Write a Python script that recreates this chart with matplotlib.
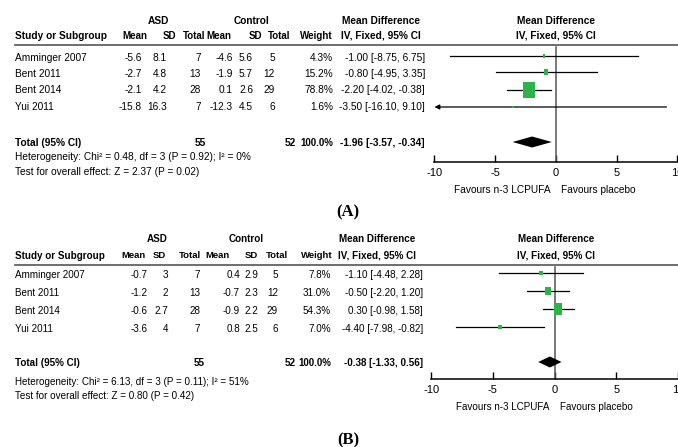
import numpy as np
import matplotlib
matplotlib.use('Agg')
import matplotlib.pyplot as plt

# ---- panel A: data ----
studies = ['Amminger 2007', 'Bent 2011', 'Bent 2014', 'Yui 2011']

a_asd_mean = [-5.6, -2.7, -2.1, -15.8]
a_asd_sd = [8.1, 4.8, 4.2, 16.3]
a_asd_n = [7, 13, 28, 7]
a_ctl_mean = [-4.6, -1.9, 0.1, -12.3]
a_ctl_sd = [5.6, 5.7, 2.6, 4.5]
a_ctl_n = [5, 12, 29, 6]
a_weight = [4.3, 15.2, 78.8, 1.6]
a_md = [-1.00, -0.80, -2.20, -3.50]
a_lo = [-8.75, -4.95, -4.02, -16.10]
a_hi = [6.75, 3.35, -0.38, 9.10]
a_total = [-1.96, -3.57, -0.34]
a_total_n = [55, 52]
a_het = 'Heterogeneity: Chi² = 0.48, df = 3 (P = 0.92); I² = 0%'
a_test = 'Test for overall effect: Z = 2.37 (P = 0.02)'

# ---- panel B: data ----
b_asd_mean = [-0.7, -1.2, -0.6, -3.6]
b_asd_sd = [3, 2, 2.7, 4]
b_asd_n = [7, 13, 28, 7]
b_ctl_mean = [0.4, -0.7, -0.9, 0.8]
b_ctl_sd = [2.9, 2.3, 2.2, 2.5]
b_ctl_n = [5, 12, 29, 6]
b_weight = [7.8, 31.0, 54.3, 7.0]
b_md = [-1.10, -0.50, 0.30, -4.40]
b_lo = [-4.48, -2.20, -0.98, -7.98]
b_hi = [2.28, 1.20, 1.58, -0.82]
b_total = [-0.38, -1.33, 0.56]
b_total_n = [55, 52]
b_het = 'Heterogeneity: Chi² = 6.13, df = 3 (P = 0.11); I² = 51%'
b_test = 'Test for overall effect: Z = 0.80 (P = 0.42)'

ticks = [-10, -5, 0, 5, 10]
tick_labels = ['-10', '-5', '0', '5', '10']
left_label = 'Favours n-3 LCPUFA'
right_label = 'Favours placebo'

GREEN = '#2cb34a'
W, H = 678, 447
plt.rcParams['font.family'] = ['Liberation Sans Narrow', 'Liberation Sans', 'DejaVu Sans']

fig = plt.figure(figsize=(W / 100, H / 100), dpi=100)
bg = fig.add_axes([0, 0, 1, 1])
bg.set_xlim(0, W)
bg.set_ylim(H, 0)
bg.axis('off')


def fmt(v):
    return '%g' % v


def draw_panel(lay, asd_mean, asd_sd, asd_n, ctl_mean, ctl_sd, ctl_n,
               weight, md, lo, hi, total, total_n, het, test, tag):
    fs = lay['fs']
    hx = lay['head_x']
    vx = lay['val_x']
    # group headers
    bg.text(lay['asd_x'], lay['y_group'], 'ASD', fontsize=fs, weight='bold', ha='center', va='center')
    bg.text(lay['ctl_x'], lay['y_group'], 'Control', fontsize=fs, weight='bold', ha='center', va='center')
    bg.text(lay['md_x'], lay['y_group'], 'Mean Difference', fontsize=fs, weight='bold', ha='center', va='center')
    bg.text(556, lay['y_group'], 'Mean Difference', fontsize=fs, weight='bold', ha='center', va='center')
    bg.text(15, lay['y_head'], 'Study or Subgroup', fontsize=fs, weight='bold', ha='left', va='center')
    for lab, x in zip(['Mean', 'SD', 'Total', 'Mean', 'SD', 'Total', 'Weight'], hx):
        bg.text(x, lay['y_head'], lab, fontsize=fs - 0.3, weight='bold', ha='right', va='center')
    bg.text(lay['md_x'], lay['y_head'], 'IV, Fixed, 95% CI', fontsize=fs, weight='bold', ha='center', va='center')
    bg.text(556, lay['y_head'], 'IV, Fixed, 95% CI', fontsize=fs, weight='bold', ha='center', va='center')
    bg.plot([15, W], [lay['y_line']] * 2, color='#555555', lw=1.2)

    # study rows
    for i, name in enumerate(studies):
        y = lay['rows'][i]
        cells = [fmt(asd_mean[i]), fmt(asd_sd[i]), str(asd_n[i]),
                 fmt(ctl_mean[i]), fmt(ctl_sd[i]), str(ctl_n[i]),
                 '%.1f%%' % weight[i]]
        bg.text(15, y, name, fontsize=fs, ha='left', va='center')
        for c, x in zip(cells, vx):
            bg.text(x, y, c, fontsize=fs, ha='right', va='center')
        bg.text(lay['ci_x'], y, '%.2f [%.2f, %.2f]' % (md[i], lo[i], hi[i]),
                fontsize=fs, ha='right', va='center')

    # total row
    yt = lay['y_total']
    bg.text(15, yt, 'Total (95% CI)', fontsize=fs, weight='bold', ha='left', va='center')
    bg.text(vx[2] + 5, yt, str(total_n[0]), fontsize=fs, weight='bold', ha='right', va='center')
    bg.text(lay['n2_total_x'], yt, str(total_n[1]), fontsize=fs, weight='bold', ha='right', va='center')
    bg.text(vx[6], yt, '100.0%', fontsize=7.0, weight='bold', ha='right', va='center')
    bg.text(lay['ci_x'], yt, '%.2f [%.2f, %.2f]' % tuple(total),
            fontsize=fs, weight='bold', ha='right', va='center')
    bg.text(15, lay['y_het'], het, fontsize=fs, ha='left', va='center')
    bg.text(15, lay['y_test'], test, fontsize=fs, ha='left', va='center')
    bg.text(348, lay['y_tag'], tag, fontsize=12, weight='bold', ha='center', va='center',
            family='Liberation Serif')

    # forest plot
    top, axis_y = lay['y_line'], lay['y_axis']
    ax = fig.add_axes([330 / W, 1 - axis_y / H, (W - 330) / W, (axis_y - top) / H])
    ax.patch.set_alpha(0)
    ax.set_xlim(lay['xlim'])
    ax.set_ylim(axis_y, top)
    for s in ['top', 'left', 'right']:
        ax.spines[s].set_visible(False)
    ax.spines['bottom'].set_linewidth(1.1)
    ax.spines['bottom'].set_bounds(ticks[0], ticks[-1])
    ax.set_yticks([])
    ax.set_xticks(ticks)
    ax.set_xticklabels(tick_labels, fontsize=8)
    ax.tick_params(axis='x', direction='in', length=5, width=1, pad=4)
    ax.plot([0, 0], [top + 2, axis_y], color='#555555', lw=1.1)

    xmin = ticks[0]
    for i in range(len(studies)):
        y = lay['forest_rows'][i]
        if lo[i] < xmin:
            ax.annotate('', xy=(xmin, y), xytext=(hi[i], y),
                        arrowprops=dict(arrowstyle='-|>', color='black', lw=0.9,
                                        mutation_scale=7, shrinkA=0, shrinkB=0))
        else:
            ax.plot([lo[i], hi[i]], [y, y], color='black', lw=0.9)
        ax.scatter([md[i]], [y], s=lay['msize'] * weight[i], color=GREEN, zorder=3,
                   marker=[(-0.36, -0.5), (0.36, -0.5), (0.36, 0.5), (-0.36, 0.5)], linewidths=0)

    yd = lay['forest_total']
    hh = lay['diamond_h']
    ax.fill([total[1], total[0], total[2], total[0]], [yd, yd - hh, yd, yd + hh],
            color='black', lw=0, zorder=4)

    ax.text(-0.45, lay['y_fav'], left_label, fontsize=fs, ha='right', va='center',
            transform=ax.transData, clip_on=False)
    ax.text(0.45, lay['y_fav'], right_label, fontsize=fs, ha='left', va='center',
            transform=ax.transData, clip_on=False)


lay_a = dict(fs=7.3, y_group=21, y_head=36, y_line=45,
             asd_x=158, ctl_x=251, md_x=381,
             head_x=[147, 176, 205, 231, 262, 290, 333],
             val_x=[142, 167, 201, 233, 253, 275, 333],
             ci_x=425, rows=[58, 74, 90, 107], forest_rows=[56, 72, 90, 107],
             y_total=143, n2_total_x=296, y_het=157, y_test=172, y_tag=212,
             y_axis=162, forest_total=142, diamond_h=5.5, y_fav=190, msize=1.6,
             xlim=(-18.6, 10.05))

lay_b = dict(fs=7.1, y_group=239, y_head=256, y_line=265,
             asd_x=157, ctl_x=246, md_x=377,
             head_x=[146, 166, 201, 230, 258, 288, 333],
             val_x=[148, 168, 200, 240, 258, 278, 331],
             ci_x=423, rows=[275, 293, 311, 329], forest_rows=[273, 291, 309, 327],
             y_total=363, n2_total_x=296, y_het=382, y_test=396, y_tag=440,
             y_axis=379, forest_total=362, diamond_h=5.5, y_fav=407, msize=1.3,
             xlim=(-18.2, 9.9))

draw_panel(lay_a, a_asd_mean, a_asd_sd, a_asd_n, a_ctl_mean, a_ctl_sd, a_ctl_n,
           a_weight, a_md, a_lo, a_hi, a_total, a_total_n, a_het, a_test, '(A)')
draw_panel(lay_b, b_asd_mean, b_asd_sd, b_asd_n, b_ctl_mean, b_ctl_sd, b_ctl_n,
           b_weight, b_md, b_lo, b_hi, b_total, b_total_n, b_het, b_test, '(B)')

fig.savefig('out.png', dpi=100)
